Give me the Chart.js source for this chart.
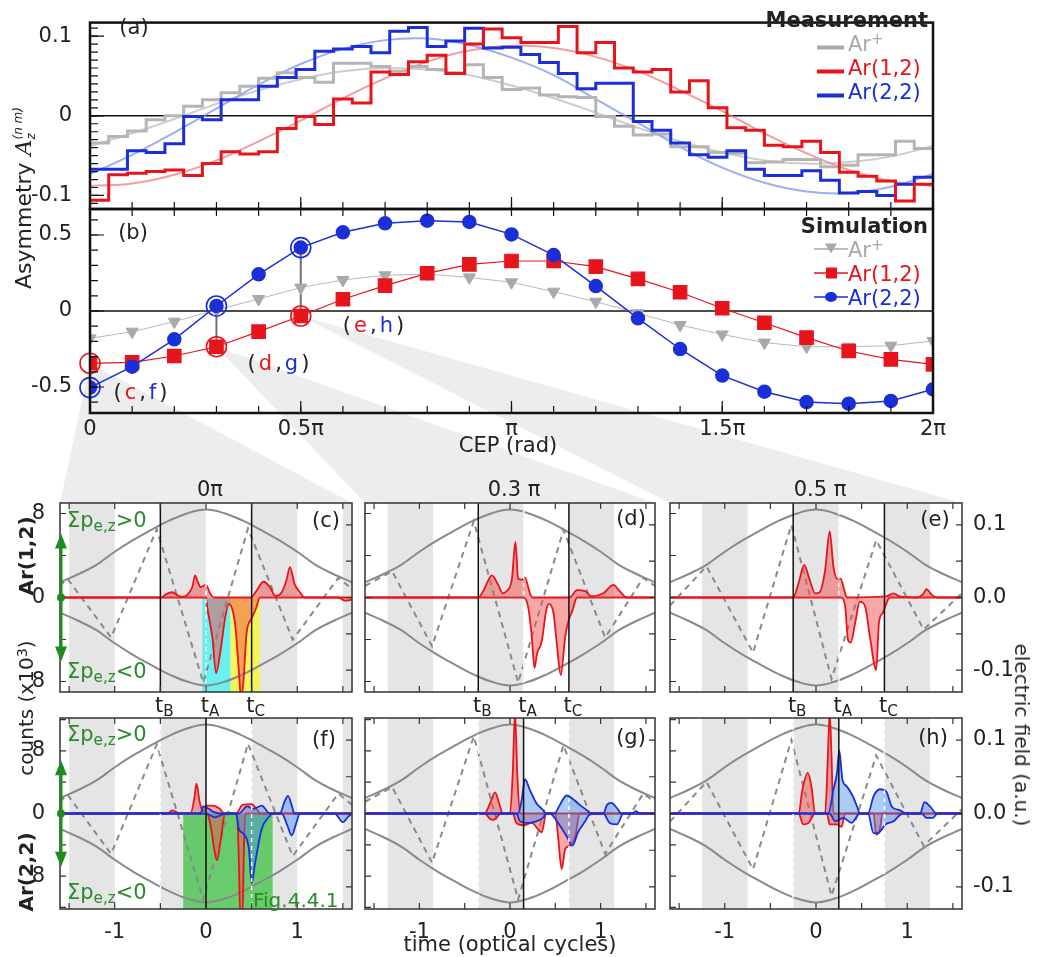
<!DOCTYPE html>
<html>
<head>
<meta charset="utf-8">
<title>CEP dependent asymmetry</title>
<script src="https://cdn.jsdelivr.net/npm/chart.js@4.4.1/dist/chart.umd.min.js"></script>
<style>
  html, body { margin: 0; padding: 0; background: #fff; }
  #fig { position: relative; width: 1037px; height: 957px; overflow: hidden; background: #fff;
         font-family: "DejaVu Sans", Verdana, sans-serif; color: #222; }
  #fig canvas { position: absolute; left: 0; top: 0; }
  .lbl { position: absolute; white-space: nowrap; font-size: 21px; line-height: 1; }
  .lbl sub { font-size: 0.72em; vertical-align: -0.3em; line-height: 0; }
  .lbl sup { font-size: 0.72em; vertical-align: 0.45em; line-height: 0; }
  .bold { font-weight: bold; }
  .stk { display: inline-flex; flex-direction: column; font-size: 12px; line-height: 1.05; vertical-align: middle; font-style: italic; }
</style>
</head>
<body>
<div id="fig"></div>
<script>
const W = 1037, H = 957;
Chart.defaults.font.family = '"DejaVu Sans", Verdana, sans-serif';
Chart.defaults.font.size = 21;
Chart.defaults.color = '#222';

const RED = '#e8141c', BLUE = '#1a2fd8', GREEN = '#2a8a2a';

// ---------- (a) measured asymmetry, 45 CEP bins of 8 degrees over 0..2pi
const measArPlus = [-0.034, -0.026, -0.019, -0.005, 0.000, 0.012, 0.020, 0.029, 0.037, 0.047, 0.054, 0.048,
  0.042, 0.066, 0.066, 0.062, 0.056, 0.062, 0.058, 0.054, 0.064, 0.048, 0.033, 0.035, 0.026, 0.024, 0.023,
  -0.001, -0.013, -0.024, -0.023, -0.039, -0.039, -0.046, -0.047, -0.059, -0.058, -0.055, -0.055, -0.064,
  -0.062, -0.049, -0.049, -0.032, -0.041];
const measAr12 = [-0.106, -0.074, -0.072, -0.070, -0.068, -0.075, -0.060, -0.045, -0.048, -0.045, -0.016,
  -0.001, -0.011, 0.021, 0.016, 0.055, 0.052, 0.068, 0.076, 0.053, 0.090, 0.109, 0.098, 0.092, 0.092, 0.112,
  0.079, 0.092, 0.060, 0.055, 0.058, 0.030, 0.044, 0.010, -0.015, -0.018, -0.037, -0.039, -0.032, -0.046,
  -0.071, -0.076, -0.082, -0.107, -0.086];
const measAr22 = [-0.067, -0.067, -0.044, -0.046, -0.035, -0.001, -0.005, 0.020, 0.020, 0.037, 0.048, 0.058,
  0.081, 0.084, 0.087, 0.079, 0.106, 0.111, 0.087, 0.094, 0.110, 0.085, 0.086, 0.077, 0.067, 0.053, 0.034,
  0.041, 0.041, -0.007, -0.018, -0.034, -0.049, -0.052, -0.044, -0.067, -0.075, -0.075, -0.069, -0.081,
  -0.097, -0.095, -0.100, -0.086, -0.077];

// CEP grid in units of pi, used by the fits and the simulation
const cepGrid = [0, 0.1, 0.2, 0.3, 0.4, 0.5, 0.6, 0.7, 0.8, 0.9, 1, 1.1, 1.2, 1.3, 1.4, 1.5, 1.6, 1.7, 1.8, 1.9, 2];

// sine fits of the measurement
const fitArPlus = [-0.038, -0.022, -0.004, 0.015, 0.032, 0.046, 0.056, 0.060, 0.058, 0.051, 0.038, 0.022,
  0.004, -0.015, -0.032, -0.046, -0.056, -0.060, -0.058, -0.051, -0.038];
const fitAr12 = [-0.088, -0.085, -0.074, -0.056, -0.032, -0.006, 0.022, 0.047, 0.068, 0.082, 0.088, 0.085,
  0.074, 0.056, 0.032, 0.006, -0.022, -0.047, -0.068, -0.082, -0.088];
const fitAr22 = [-0.073, -0.049, -0.021, 0.009, 0.039, 0.065, 0.084, 0.095, 0.097, 0.089, 0.073, 0.051,
  0.021, -0.009, -0.039, -0.065, -0.084, -0.095, -0.097, -0.089, -0.073];

// ---------- (b) simulated asymmetry
const simArPlus = [-0.18, -0.136, -0.07, 0.007, 0.079, 0.154, 0.204, 0.235, 0.243, 0.221, 0.189, 0.127,
  0.061, -0.015, -0.092, -0.154, -0.208, -0.235, -0.235, -0.228, -0.197];
const simAr12 = [-0.344, -0.338, -0.296, -0.235, -0.136, -0.033, 0.077, 0.167, 0.248, 0.307, 0.329, 0.329,
  0.292, 0.211, 0.123, 0.018, -0.077, -0.175, -0.263, -0.318, -0.351];
const simAr22 = [-0.504, -0.366, -0.186, 0.033, 0.241, 0.417, 0.518, 0.577, 0.594, 0.586, 0.504, 0.368,
  0.164, -0.048, -0.25, -0.425, -0.531, -0.599, -0.61, -0.592, -0.515];
// grid points shown in detail below: (c,f), (d,g), (e,h)
const markedIdx = [0, 3, 5];

// ---------- (c)-(h) laser field, time in optical cycles
const envTime = [-1.6, -1.4, -1.2, -1.0, -0.8, -0.6, -0.4, -0.2, 0, 0.2, 0.4, 0.6, 0.8, 1.0, 1.2, 1.4, 1.6];
const envField = [0.021, 0.032, 0.045, 0.063, 0.079, 0.093, 0.106, 0.116, 0.121, 0.116, 0.106, 0.093,
  0.079, 0.063, 0.045, 0.032, 0.021];
const fieldCep0 = [[-1.6, 0.016], [-1.52, 0.026], [-1.04, -0.055], [-0.54, 0.094], [-0.03, -0.117],
  [0.46, 0.095], [0.95, -0.058], [1.45, 0.027], [1.6, 0.012]];
const fieldCep03 = [[-1.6, 0.016], [-1.3, 0.036], [-0.86, -0.067], [-0.4, 0.105], [0.09, -0.117],
  [0.59, 0.093], [1.05, -0.055], [1.47, 0.027], [1.6, 0.016]];
const fieldCep05 = [[-1.6, -0.011], [-1.2, 0.043], [-0.69, -0.076], [-0.27, 0.1], [0.17, -0.112],
  [0.66, 0.079], [1.18, -0.044], [1.6, 0.006]];
// half cycles shaded grey, and t_B, t_A, t_C, all at CEP = 0
const halfCycleBands = [[-1.5, -1], [-0.5, 0], [0.5, 1], [1.5, 2]];
const markTimes = [-0.5, 0, 0.5];
const markNames = ['B', 'A', 'C'];

// electron counts (x10^3): positive and negative sum momentum
const cRedUp = [[-1.6, 0], [-0.49, 0], [-0.44, 0.3], [-0.37, 0.5], [-0.31, 0.2], [-0.26, 0.05], [-0.2, 0.3],
  [-0.15, 1.0], [-0.12, 2.1], [-0.09, 1.5], [-0.06, 1.0], [0.0, 1.2], [0.05, 0.3], [0.09, 0], [0.49, 0],
  [0.55, 0.6], [0.63, 1.5], [0.7, 1.0], [0.76, 0.15], [0.83, 0.5], [0.88, 1.6], [0.92, 2.9], [0.97, 1.3],
  [1.03, 0.5], [1.08, 0], [1.6, 0]];
const cRedDown = [[-1.6, 0], [0.0, 0], [0.015, -1.0], [0.07, -3.8], [0.11, -7.2], [0.16, -5.0], [0.21, -1.9],
  [0.25, -0.6], [0.28, -0.9], [0.32, -2.6], [0.36, -7.0], [0.385, -9.6], [0.41, -8.0], [0.445, -3.4],
  [0.5, -2.0], [0.55, -1.0], [0.59, 0], [1.45, 0], [1.52, -0.3], [1.6, -0.2]];
const dRedUp = [[-1.6, 0], [-0.35, 0], [-0.29, 0.7], [-0.2, 2.1], [-0.13, 1.2], [-0.08, 0.4], [-0.04, 0.6],
  [0.02, 1.7], [0.06, 5.3], [0.09, 1.8], [0.13, 1.7], [0.165, 1.9], [0.22, 0.4], [0.25, 0], [0.66, 0],
  [0.74, 0.7], [0.83, 0.6], [0.9, 0.1], [1.03, 0.4], [1.14, 1.2], [1.21, 0.6], [1.29, 0], [1.6, 0]];
const dRedDown = [[-1.6, 0], [0.15, 0], [0.2, -0.9], [0.24, -3.7], [0.27, -6.7], [0.3, -5.3], [0.35, -4.2],
  [0.4, -1.2], [0.43, -0.6], [0.48, -1.5], [0.52, -4.7], [0.56, -7.4], [0.61, -3.7], [0.64, -2.4],
  [0.69, -1.2], [0.74, 0], [1.6, 0]];
const eRedUp = [[-1.6, 0], [-0.25, 0], [-0.19, 1.4], [-0.13, 3.1], [-0.07, 1.7], [-0.01, 0.4], [0.04, 0.5],
  [0.1, 2.6], [0.15, 6.3], [0.19, 3.0], [0.23, 1.8], [0.27, 1.8], [0.31, 0.7], [0.34, 0], [0.77, 0.1],
  [0.85, 0.4], [0.92, 0.1], [1.1, 0], [1.18, 0.4], [1.21, 0.8], [1.27, 0.25], [1.32, 0], [1.6, 0]];
const eRedDown = [[-1.6, 0], [0.28, 0], [0.32, -0.9], [0.35, -4.0], [0.38, -4.3], [0.43, -2.4], [0.48, -0.4],
  [0.54, -0.9], [0.59, -3.7], [0.66, -6.9], [0.69, -2.4], [0.73, -1.5], [0.81, 0], [1.6, 0]];
const fRedUp = [[-1.6, 0], [-0.42, 0], [-0.37, 0.4], [-0.28, 0], [-0.17, 0], [-0.13, 1.8], [-0.105, 3.8],
  [-0.07, 1.5], [-0.03, 0.2], [0.0, 1.0], [0.07, 1.0], [0.15, 0.6], [0.2, 0], [0.33, 0], [0.4, 1.1],
  [0.5, 1.2], [0.56, 0.5], [0.6, 0], [1.6, 0]];
const fRedDown = [[-1.6, 0], [0.01, 0], [0.05, -1.5], [0.09, -4.5], [0.12, -6.0], [0.16, -3.5], [0.21, 0],
  [0.34, 0], [0.36, -6], [0.375, -13], [0.4, -13], [0.415, -5], [0.43, 0], [1.6, 0]];
const fBlueUp = [[-1.6, 0], [-0.06, 0], [-0.03, 0.9], [0.03, 0.6], [0.08, 0.2], [0.16, 0], [0.36, 0],
  [0.45, 0.9], [0.52, 0.6], [0.61, 1.0], [0.7, 0], [0.81, 0], [0.86, 1.5], [0.9, 2.25], [0.94, 1.0],
  [0.97, 0], [1.6, 0]];
const fBlueDown = [[-1.6, 0], [0.0, 0], [0.1, -0.5], [0.21, 0], [0.33, 0], [0.36, -2.0], [0.41, -2.6],
  [0.47, -4.5], [0.5, -8.9], [0.54, -6.2], [0.61, -2.0], [0.7, -0.3], [0.72, 0], [0.83, 0], [0.89, -1.5],
  [0.94, -2.8], [0.99, -1.2], [1.03, 0], [1.41, 0], [1.5, -1.1], [1.56, -0.4], [1.6, 0]];
const gRedUp = [[-1.6, 0], [-0.28, 0], [-0.22, 1.3], [-0.165, 2.7], [-0.12, 1.3], [-0.08, 0], [0.0, 0],
  [0.03, 5.1], [0.055, 13], [0.08, 5.1], [0.11, 0], [1.6, 0]];
const gRedDown = [[-1.6, 0], [-0.28, 0], [-0.22, -0.7], [-0.18, -0.8], [-0.1, 0], [0.03, 0], [0.07, -1.2],
  [0.15, -1.5], [0.24, -1.2], [0.31, -2.0], [0.35, -2.4], [0.4, 0], [0.5, 0], [0.53, -2.9], [0.57, -7.1],
  [0.61, -4.5], [0.66, -4.1], [0.72, -2.9], [0.77, 0], [1.6, 0]];
const gBlueUp = [[-1.6, 0], [0.09, 0], [0.13, 1.8], [0.165, 4.4], [0.22, 3.0], [0.29, 1.35], [0.36, 0.5],
  [0.4, 0], [0.49, 0], [0.55, 1.1], [0.625, 2.3], [0.7, 1.8], [0.77, 1.1], [0.85, 0.4], [0.89, 0],
  [1.03, 0], [1.07, 1.1], [1.12, 1.35], [1.18, 0.7], [1.23, 0], [1.35, 0], [1.39, 0.3], [1.43, 0], [1.6, 0]];
const gBlueDown = [[-1.6, 0], [0.07, 0], [0.11, -1.0], [0.18, -1.2], [0.29, -1.0], [0.37, -0.5], [0.4, 0],
  [0.44, 0], [0.53, -1.2], [0.625, -2.9], [0.69, -4.1], [0.75, -2.4], [0.83, -1.0], [0.89, 0], [1.03, 0],
  [1.1, -1.2], [1.18, -1.4], [1.25, 0], [1.6, 0]];
const hRedUp = [[-1.6, 0], [-0.19, 0], [-0.15, 3.0], [-0.09, 5.2], [-0.05, 3.5], [-0.01, 0], [0.1, 0],
  [0.13, 7.3], [0.15, 13], [0.17, 7.3], [0.19, 0], [1.6, 0]];
const hRedDown = [[-1.6, 0], [-0.19, 0], [-0.14, -1.4], [-0.08, -1.2], [-0.01, 0], [0.12, 0], [0.15, -1.4],
  [0.23, -1.4], [0.28, -1.7], [0.32, 0], [0.63, 0], [0.66, -2.7], [0.7, -2.0], [0.73, 0], [1.6, 0]];
const hBlueUp = [[-1.6, 0], [0.135, 0], [0.19, 3.0], [0.23, 5.2], [0.255, 8.05], [0.29, 4.3], [0.335, 3.5],
  [0.4, 2.3], [0.45, 0.9], [0.48, 0], [0.57, 0], [0.63, 2.2], [0.7, 3.1], [0.77, 2.8], [0.83, 0.9],
  [0.92, 0.4], [0.99, 0], [1.14, 0], [1.19, 1.45], [1.25, 0.9], [1.32, 0], [1.6, 0]];
const hBlueDown = [[-1.6, 0], [0.15, 0], [0.21, -1.0], [0.3, -0.55], [0.39, -1.2], [0.48, 0], [0.57, 0],
  [0.63, -2.5], [0.68, -2.5], [0.76, -1.4], [0.85, -1.0], [0.95, 0], [1.16, 0], [1.21, -0.55],
  [1.28, -0.55], [1.33, 0], [1.6, 0]];

// time windows highlighted in (c) and (f)
const cCyanWindow = [-0.04, 0.27];
const cYellowWindow = [0.27, 0.59];
const fGreenWindow = [-0.25, 0.73];

// ---------- layout (canvas pixels of each plot area)
const BOX = {
  a: { l: 90, r: 933, t: 5, b: 209 },
  b: { l: 90, r: 933, t: 209, b: 413 },
  c: { l: 60, r: 352, t: 503, b: 692 }, d: { l: 365, r: 655, t: 503, b: 692 }, e: { l: 670, r: 962, t: 503, b: 692 },
  f: { l: 60, r: 352, t: 718, b: 909 }, g: { l: 365, r: 655, t: 718, b: 909 }, h: { l: 670, r: 962, t: 718, b: 909 }
};

const fig = document.getElementById('fig');

function makeCanvas() {
  const c = document.createElement('canvas');
  c.width = W; c.height = H;
  fig.appendChild(c);
  return c;
}

const seq = (a, b, s) => {
  const out = [];
  for (let v = a; v <= b + 1e-9; v += s) out.push(+v.toFixed(4));
  return out;
};

function axis(min, max, opt = {}) {
  const labels = opt.labels || [];
  return {
    type: 'linear', min, max,
    position: opt.position || undefined,
    display: labels.length > 0,
    grid: { display: false },
    border: { display: false },
    afterFit: s => { if (s.isHorizontal()) s.height = 0; else s.width = 0; },
    afterBuildTicks: s => { s.ticks = labels.map(value => ({ value })); },
    ticks: { padding: opt.padding === undefined ? 6 : opt.padding, callback: opt.format || (v => String(v)), maxRotation: 0, autoSkip: false }
  };
}

// each labelled axis takes the whole margin on its side, so the plot area lands on the box
function common(box, scales) {
  const margin = { left: box.l, top: box.t, right: W - box.r, bottom: H - box.b };
  const padding = Object.assign({}, margin);
  Object.entries(scales).forEach(([id, s]) => {
    if (!s.display) return;
    const side = s.position || (id === 'x' ? 'bottom' : 'left');
    const size = margin[side];
    padding[side] = 0;
    s.afterFit = sc => { if (sc.isHorizontal()) sc.height = size; else sc.width = size; };
  });
  return {
    responsive: false, animation: false, devicePixelRatio: 1, events: [],
    layout: { padding, autoPadding: false },
    elements: { point: { radius: 0 } },
    plugins: { legend: { display: false }, tooltip: { enabled: false } },
    scales
  };
}

// extra drawing: shaded bands, windows, markers, frame and inward ticks
function decorFor(o) {
  return {
    id: 'decor',
    beforeDraw(chart) { if (o.under) o.under(chart); },
    beforeDatasetsDraw(chart) {
      const { ctx, chartArea: a, scales } = chart;
      ctx.save();
      ctx.beginPath(); ctx.rect(a.left, a.top, a.width, a.height); ctx.clip();
      (o.bands || []).forEach(([t0, t1]) => {
        const x0 = scales.x.getPixelForValue(t0), x1 = scales.x.getPixelForValue(t1);
        ctx.fillStyle = '#e5e5e5';
        ctx.fillRect(x0, a.top, x1 - x0, a.height);
      });
      (o.windows || []).forEach(w => {
        const x0 = scales.x.getPixelForValue(w.range[0]), x1 = scales.x.getPixelForValue(w.range[1]);
        const y0 = scales.y.getPixelForValue(0);
        ctx.fillStyle = w.color;
        ctx.fillRect(x0, y0, x1 - x0, a.bottom - y0);
      });
      if (o.zeroLine) {
        const y0 = scales.y.getPixelForValue(0);
        ctx.strokeStyle = '#111'; ctx.lineWidth = 1.6;
        ctx.beginPath(); ctx.moveTo(a.left, y0); ctx.lineTo(a.right, y0); ctx.stroke();
      }
      ctx.restore();
    },
    afterDatasetsDraw(chart) {
      const { ctx, chartArea: a, scales } = chart;
      ctx.save();
      (o.marks || []).forEach(m => {
        const x = scales.x.getPixelForValue(m.t);
        ctx.beginPath(); ctx.moveTo(x, a.top); ctx.lineTo(x, a.bottom);
        if (m.solid) { ctx.setLineDash([]); ctx.strokeStyle = '#111'; ctx.lineWidth = 1.5; }
        else { ctx.setLineDash([4, 4]); ctx.strokeStyle = '#fff'; ctx.lineWidth = 1.5; }
        ctx.stroke();
      });
      ctx.restore();
    },
    afterDraw(chart) {
      const { ctx, chartArea: a, scales } = chart;
      ctx.save();
      ctx.strokeStyle = o.frameColor || '#333';
      ctx.lineWidth = o.frameWidth || 1.5;
      ctx.strokeRect(a.left, a.top, a.width, a.height);
      ctx.lineWidth = 1.2;
      (o.ticks || []).forEach(({ axis: id, side, values, len }) => {
        const s = scales[id];
        ctx.beginPath();
        values.forEach(v => {
          const p = s.getPixelForValue(v);
          if (side === 'bottom') { ctx.moveTo(p, a.bottom); ctx.lineTo(p, a.bottom - len); }
          else if (side === 'top') { ctx.moveTo(p, a.top); ctx.lineTo(p, a.top + len); }
          else if (side === 'left') { ctx.moveTo(a.left, p); ctx.lineTo(a.left + len, p); }
          else { ctx.moveTo(a.right, p); ctx.lineTo(a.right - len, p); }
        });
        ctx.stroke();
      });
      if (o.arrow) {
        const x = a.left + 1;
        const y0 = scales.y.getPixelForValue(o.arrow), y1 = scales.y.getPixelForValue(-o.arrow);
        const ym = scales.y.getPixelForValue(0);
        ctx.strokeStyle = ctx.fillStyle = '#1f8a1f';
        ctx.lineWidth = 3;
        ctx.beginPath(); ctx.moveTo(x, y0 + 8); ctx.lineTo(x, y1 - 8); ctx.stroke();
        [[y0, 1], [y1, -1]].forEach(([y, d]) => {
          ctx.beginPath(); ctx.moveTo(x, y); ctx.lineTo(x - 6, y + 15 * d); ctx.lineTo(x + 6, y + 15 * d);
          ctx.closePath(); ctx.fill();
        });
        ctx.beginPath(); ctx.arc(x, ym, 4, 0, Math.PI * 2); ctx.fill();
      }
      ctx.restore();
    }
  };
}

const fmt1 = v => (v === 0 ? '0' : v.toFixed(1));
const cepNames = { 0: '0', 0.5: '0.5π', 1: 'π', 1.5: '1.5π', 2: '2π' };
const onGrid = vals => vals.map((y, i) => ({ x: cepGrid[i], y }));
const binW = 2 / measAr12.length;
const steps = vals => vals.map((y, i) => ({ x: i * binW, y })).concat([{ x: 2, y: vals[vals.length - 1] }]);

// ---------- (a) measurement
new Chart(makeCanvas(), {
  type: 'line',
  data: {
    datasets: [
      { data: steps(measAr12), borderColor: RED, borderWidth: 3, stepped: true, order: 1 },
      { data: steps(measAr22), borderColor: BLUE, borderWidth: 3, stepped: true, order: 2 },
      { data: steps(measArPlus), borderColor: '#b5b5b5', borderWidth: 3, stepped: true, order: 3 },
      { data: onGrid(fitAr12), borderColor: 'rgba(238,125,125,0.75)', borderWidth: 2, tension: 0.4, order: 4 },
      { data: onGrid(fitAr22), borderColor: 'rgba(125,145,240,0.75)', borderWidth: 2, tension: 0.4, order: 5 },
      { data: onGrid(fitArPlus), borderColor: 'rgba(200,200,200,0.9)', borderWidth: 2, tension: 0.4, order: 6 }
    ]
  },
  options: common(BOX.a, {
    x: axis(0, 2),
    y: axis(-0.117, 0.117, { labels: [-0.1, 0, 0.1], format: fmt1, padding: 10 })
  }),
  plugins: [decorFor({
    zeroLine: true, frameColor: '#111', frameWidth: 2.5,
    ticks: [
      { axis: 'x', side: 'bottom', values: seq(0, 2, 0.1), len: 7 },
      { axis: 'x', side: 'bottom', values: [0.5, 1, 1.5], len: 12 },
      { axis: 'y', side: 'left', values: seq(-0.11, 0.11, 0.01), len: 8 },
      { axis: 'y', side: 'left', values: [-0.1, 0, 0.1], len: 14 }
    ]
  })]
});

// ---------- (b) simulation
function drawWedges(chart) {
  const { ctx, scales: { x, y } } = chart;
  ctx.save();
  ctx.fillStyle = '#ededed';
  markedIdx.forEach((k, j) => {
    const target = BOX['cde'[j]];
    ctx.beginPath();
    ctx.moveTo(x.getPixelForValue(cepGrid[k]), y.getPixelForValue(simAr12[k]));
    ctx.lineTo(target.r, target.t);
    ctx.lineTo(target.l, target.t);
    ctx.closePath();
    ctx.fill();
  });
  ctx.restore();
}

const marked = vals => markedIdx.map(k => ({ x: cepGrid[k], y: vals[k] }));
new Chart(makeCanvas(), {
  type: 'line',
  data: {
    datasets: [
      { data: marked(simAr22), showLine: false, pointRadius: 10, pointBorderColor: BLUE, pointBackgroundColor: 'rgba(0,0,0,0)', pointBorderWidth: 1.6, clip: false, order: 0 },
      { data: marked(simAr12), showLine: false, pointRadius: 10, pointBorderColor: RED, pointBackgroundColor: 'rgba(0,0,0,0)', pointBorderWidth: 1.6, clip: false, order: 1 },
      { data: onGrid(simAr22), borderColor: BLUE, backgroundColor: BLUE, borderWidth: 1.5, pointRadius: 6.5, pointStyle: 'circle', order: 3 },
      { data: onGrid(simAr12), borderColor: RED, backgroundColor: RED, borderWidth: 1.2, pointRadius: 9.5, pointStyle: 'rect', order: 4 },
      { data: onGrid(simArPlus), borderColor: '#b8b8b8', backgroundColor: '#a9a9a9', pointBorderColor: '#a9a9a9', borderWidth: 1, pointRadius: 7, pointStyle: 'triangle', pointRotation: 180, order: 5 },
      ...markedIdx.slice(1).map(k => ({
        data: [{ x: cepGrid[k], y: simAr12[k] }, { x: cepGrid[k], y: simAr22[k] }],
        borderColor: '#707070', borderWidth: 2, order: 6
      }))
    ]
  },
  options: common(BOX.b, {
    x: axis(0, 2, { labels: [0, 0.5, 1, 1.5, 2], format: v => cepNames[v], padding: -4 }),
    y: axis(-0.671, 0.671, { labels: [-0.5, 0, 0.5], format: fmt1, padding: 10 })
  }),
  plugins: [decorFor({
    under: drawWedges, zeroLine: true, frameColor: '#111', frameWidth: 2.5,
    ticks: [
      { axis: 'x', side: 'bottom', values: seq(0, 2, 0.1), len: 7 },
      { axis: 'x', side: 'top', values: seq(0, 2, 0.1), len: 7 },
      { axis: 'x', side: 'bottom', values: [0.5, 1, 1.5], len: 12 },
      { axis: 'y', side: 'left', values: seq(-0.6, 0.6, 0.1), len: 8 },
      { axis: 'y', side: 'left', values: [-0.5, 0, 0.5], len: 14 }
    ]
  })]
});

// ---------- (c)-(h) time traces
const COLS = [
  { cep: 0, field: fieldCep0, title: '0π' },
  { cep: 0.3, field: fieldCep03, title: '0.3 π' },
  { cep: 0.5, field: fieldCep05, title: '0.5 π' }
];
const PANELS = [
  { key: 'c', col: 0, row: 0, red: [cRedUp, cRedDown],
    windows: [{ range: cCyanWindow, color: 'rgba(90,238,240,0.9)' }, { range: cYellowWindow, color: 'rgba(246,246,80,0.95)' }] },
  { key: 'd', col: 1, row: 0, red: [dRedUp, dRedDown] },
  { key: 'e', col: 2, row: 0, red: [eRedUp, eRedDown] },
  { key: 'f', col: 0, row: 1, red: [fRedUp, fRedDown], blue: [fBlueUp, fBlueDown],
    windows: [{ range: fGreenWindow, color: 'rgba(96,200,100,0.95)' }] },
  { key: 'g', col: 1, row: 1, red: [gRedUp, gRedDown], blue: [gBlueUp, gBlueDown] },
  { key: 'h', col: 2, row: 1, red: [hRedUp, hRedDown], blue: [hBlueUp, hBlueDown] }
];

const xy = arr => arr.map(([x, y]) => ({ x, y }));
const countsArea = (arr, line, fill, order) => ({
  data: xy(arr), borderColor: line, backgroundColor: fill, borderWidth: 1.8,
  fill: 'origin', cubicInterpolationMode: 'monotone', order
});

const traceCharts = {};
PANELS.forEach(p => {
  const col = COLS[p.col];
  const shift = col.cep / 2;
  const lower = p.row === 1;
  const nMax = lower ? 12.2 : 9;
  const datasets = [
    { data: envTime.map((x, i) => ({ x, y: envField[i] })), yAxisID: 'y2', borderColor: '#8a8a8a', borderWidth: 2, tension: 0.4, order: 20 },
    { data: envTime.map((x, i) => ({ x, y: -envField[i] })), yAxisID: 'y2', borderColor: '#8a8a8a', borderWidth: 2, tension: 0.4, order: 21 },
    { data: xy(col.field), yAxisID: 'y2', borderColor: '#8a8a8a', borderWidth: 2, borderDash: [6, 5], order: 22 },
    countsArea(p.red[0], RED, 'rgba(242,80,80,0.5)', 11),
    countsArea(p.red[1], RED, 'rgba(242,80,80,0.5)', 12)
  ];
  if (p.blue) {
    datasets.push(countsArea(p.blue[0], BLUE, 'rgba(70,140,235,0.45)', 2));
    datasets.push(countsArea(p.blue[1], BLUE, 'rgba(70,140,235,0.45)', 3));
  }
  const marks = markTimes.map((t, i) => ({ t: t + shift, solid: lower ? i === 1 : i !== 1 }));
  traceCharts[p.key] = new Chart(makeCanvas(), {
    type: 'line',
    data: { datasets },
    options: common(BOX[p.key], {
      x: axis(-1.6, 1.6, lower ? { labels: [-1, 0, 1], format: v => String(v), padding: 3 } : {}),
      y: axis(-nMax, nMax, p.col === 0
        ? { labels: [-8, 0, 8], format: v => String(Math.abs(v)), padding: 7, position: 'left' }
        : { position: 'left' }),
      y2: axis(-0.13, 0.13, p.col === 2
        ? { labels: [-0.1, 0, 0.1], format: v => v.toFixed(1), padding: 3, position: 'right' }
        : { position: 'right' })
    }),
    plugins: [decorFor({
      bands: halfCycleBands.map(([a, b]) => [a + shift, b + shift]),
      windows: p.windows, marks,
      arrow: p.col === 0 ? (lower ? 6.8 : 6.1) : 0,
      ticks: [
        { axis: 'x', side: 'bottom', values: seq(-1.5, 1.5, 0.5), len: 6 },
        { axis: 'x', side: 'top', values: seq(-1.5, 1.5, 0.5), len: 6 },
        { axis: 'y', side: 'left', values: lower ? seq(-12, 12, 4) : seq(-8, 8, 4), len: 6 },
        { axis: 'y2', side: 'right', values: seq(-0.1, 0.1, 0.05), len: 6 }
      ]
    })]
  });
});

// ---------- text
function addText(html, x, y, o = {}) {
  const el = document.createElement('div');
  el.className = 'lbl' + (o.bold ? ' bold' : '');
  el.innerHTML = html;
  el.style.left = x + 'px';
  el.style.top = y + 'px';
  if (o.color) el.style.color = o.color;
  if (o.size) el.style.fontSize = o.size + 'px';
  if (o.spacing) el.style.letterSpacing = o.spacing + 'px';
  const ax = o.ax === undefined ? 0.5 : o.ax;
  el.style.transform = `translate(${-ax * 100}%, -50%)` + (o.rot ? ` rotate(${o.rot}deg)` : '');
  fig.appendChild(el);
  return el;
}
const col = (c, s) => `<span style="color:${c}">${s}</span>`;

addText('(a)', 134, 27);
addText('(b)', 133, 232);
addText('Asymmetry <span style="font-family:\'DejaVu Serif\';font-style:italic">A</span><span class="stk"><span>(n m)</span><span>z</span></span>', 25, 198, { rot: -90, size: 22 });
addText('CEP (rad)', 508, 445);

// legends
const legendA = [['Ar<sup>+</sup>', '#a9a9a9'], ['Ar(1,2)', RED], ['Ar(2,2)', BLUE]];
addText('Measurement', 928, 20, { bold: true, ax: 1 });
legendA.forEach(([name, c], i) => {
  const y = 44 + i * 24;
  addText(`<svg width="27" height="8"><line x1="0" y1="4" x2="27" y2="4" stroke="${c}" stroke-width="4"/></svg>`, 817, y + 1, { ax: 0 });
  addText(name, 848, y, { ax: 0, color: c });
});
const legendB = [
  ['Ar<sup>+</sup>', '#a9a9a9', '<path d="M11 3 L23 3 L17 13 Z" fill="#a9a9a9"/>'],
  ['Ar(1,2)', RED, '<rect x="12" y="3" width="11" height="11" fill="' + RED + '"/>'],
  ['Ar(2,2)', BLUE, '<ellipse cx="17" cy="8.5" rx="6" ry="5" fill="' + BLUE + '"/>']
];
addText('Simulation', 928, 226, { bold: true, ax: 1 });
legendB.forEach(([name, c, mark], i) => {
  const y = 250 + i * 24;
  addText(`<svg width="34" height="17"><line x1="0" y1="8.5" x2="34" y2="8.5" stroke="${c}" stroke-width="1.5"/>${mark}</svg>`, 814, y + 1, { ax: 0 });
  addText(name, 848, y, { ax: 0, color: c });
});

addText(`(${col(RED, 'c')},${col(BLUE, 'f')})`, 142, 392, { spacing: 3 });
addText(`(${col(RED, 'd')},${col(BLUE, 'g')})`, 280, 363, { spacing: 3 });
addText(`(${col(RED, 'e')},${col(BLUE, 'h')})`, 375, 325, { spacing: 3 });

// lower panels
COLS.forEach((c, i) => {
  const chart = traceCharts['cde'[i]];
  const a = chart.chartArea;
  addText(c.title, (a.left + a.right) / 2 + 4, 489);
  markTimes.forEach((t, j) => {
    addText(`t<sub>${markNames[j]}</sub>`, chart.scales.x.getPixelForValue(t + c.cep / 2) + 4, 705);
  });
});
[['c', 326, 520], ['d', 631, 518], ['e', 935, 519], ['f', 324, 739], ['g', 631, 737], ['h', 933, 737]]
  .forEach(([k, x, y]) => addText(`(${k})`, x, y));

addText('Σp<sub>e,z</sub>&gt;0', 67, 520, { ax: 0, color: GREEN });
addText('Σp<sub>e,z</sub>&lt;0', 67, 671, { ax: 0, color: GREEN });
addText('Σp<sub>e,z</sub>&gt;0', 67, 734, { ax: 0, color: GREEN });
addText('Σp<sub>e,z</sub>&lt;0', 67, 892, { ax: 0, color: GREEN });
addText('Fig.4.4.1', 253, 900, { ax: 0, color: GREEN, size: 20 });

addText('Ar(1,2)', 26, 556, { bold: true, rot: -90, size: 20 });
addText('counts (x10<sup>3</sup>)', 26, 708, { rot: -90, size: 20 });
addText('Ar(2,2)', 26, 872, { bold: true, rot: -90, size: 20 });
addText('electric field (a.u.)', 1022, 735, { rot: 90, size: 20 });
addText('time (optical cycles)', 510, 944);
</script>
</body>
</html>
